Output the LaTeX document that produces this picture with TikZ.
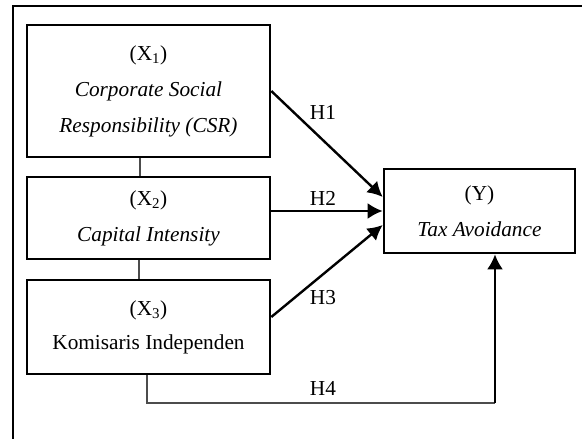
\documentclass[tikz,border=0pt]{standalone}
\usepackage{fontspec}
\setmainfont{Liberation Serif}
\usetikzlibrary{arrows.meta,calc}
\begin{document}
\begin{tikzpicture}[x=1pt,y=-1pt,
  box/.style={draw,line width=2.6pt,minimum width=243pt,align=center,inner sep=0pt,
    font=\fontsize{21.3}{36}\selectfont},
  link/.style={draw=black!70,line width=1.4pt},
  arr/.style={line width=2.4pt,-{Latex[length=15pt,width=16pt]}},
  lab/.style={font=\fontsize{21.3}{26}\selectfont,inner sep=0pt}]
\useasboundingbox (0,0) rectangle (582,439);
\clip (0,0) rectangle (582,439);
\draw[line width=1.6pt] (13,6) rectangle (600,460);
\node[box,minimum height=132pt] (x1) at (148.5,91) {(X\textsubscript{1})\\ \textit{Corporate Social}\\ \textit{Responsibility (CSR)}};
\node[box,minimum height=82pt] (x2) at (148.5,218) {(X\textsubscript{2})\\ \textit{Capital Intensity}};
\node[box,minimum height=94pt] (x3) at (148.5,327) {(X\textsubscript{3})\\[-2pt] Komisaris Independen};
\node[box,minimum width=191pt,minimum height=84pt] (y) at (479.5,211) {(Y)\\ \textit{Tax Avoidance}};
\draw[link] ([xshift=-8.5pt]x1.south) -- ([xshift=-8.5pt]x2.north);
\draw[link] ([xshift=-9.5pt]x2.south) -- ([xshift=-9.5pt]x3.north);
\draw[arr] (x1.east) -- ([yshift=14pt]y.west);
\draw[arr] (y.west -| x2.east) -- (y.west);
\draw[arr] ([yshift=10pt]x3.east) -- ([yshift=-14pt]y.west);
\coordinate (h4c) at (495,403);
\draw[link] ([xshift=-1.5pt]x3.south) |- (h4c);
\draw[arr] (h4c) -- (h4c |- y.south);
\node[lab] (h1) at (323,112) {H1};
\node[lab] (h2) at (323,198) {H2};
\node[lab] (h3) at (323,298) {H3};
\node[lab] (h4) at (323,388) {H4};
\end{tikzpicture}
\end{document}
